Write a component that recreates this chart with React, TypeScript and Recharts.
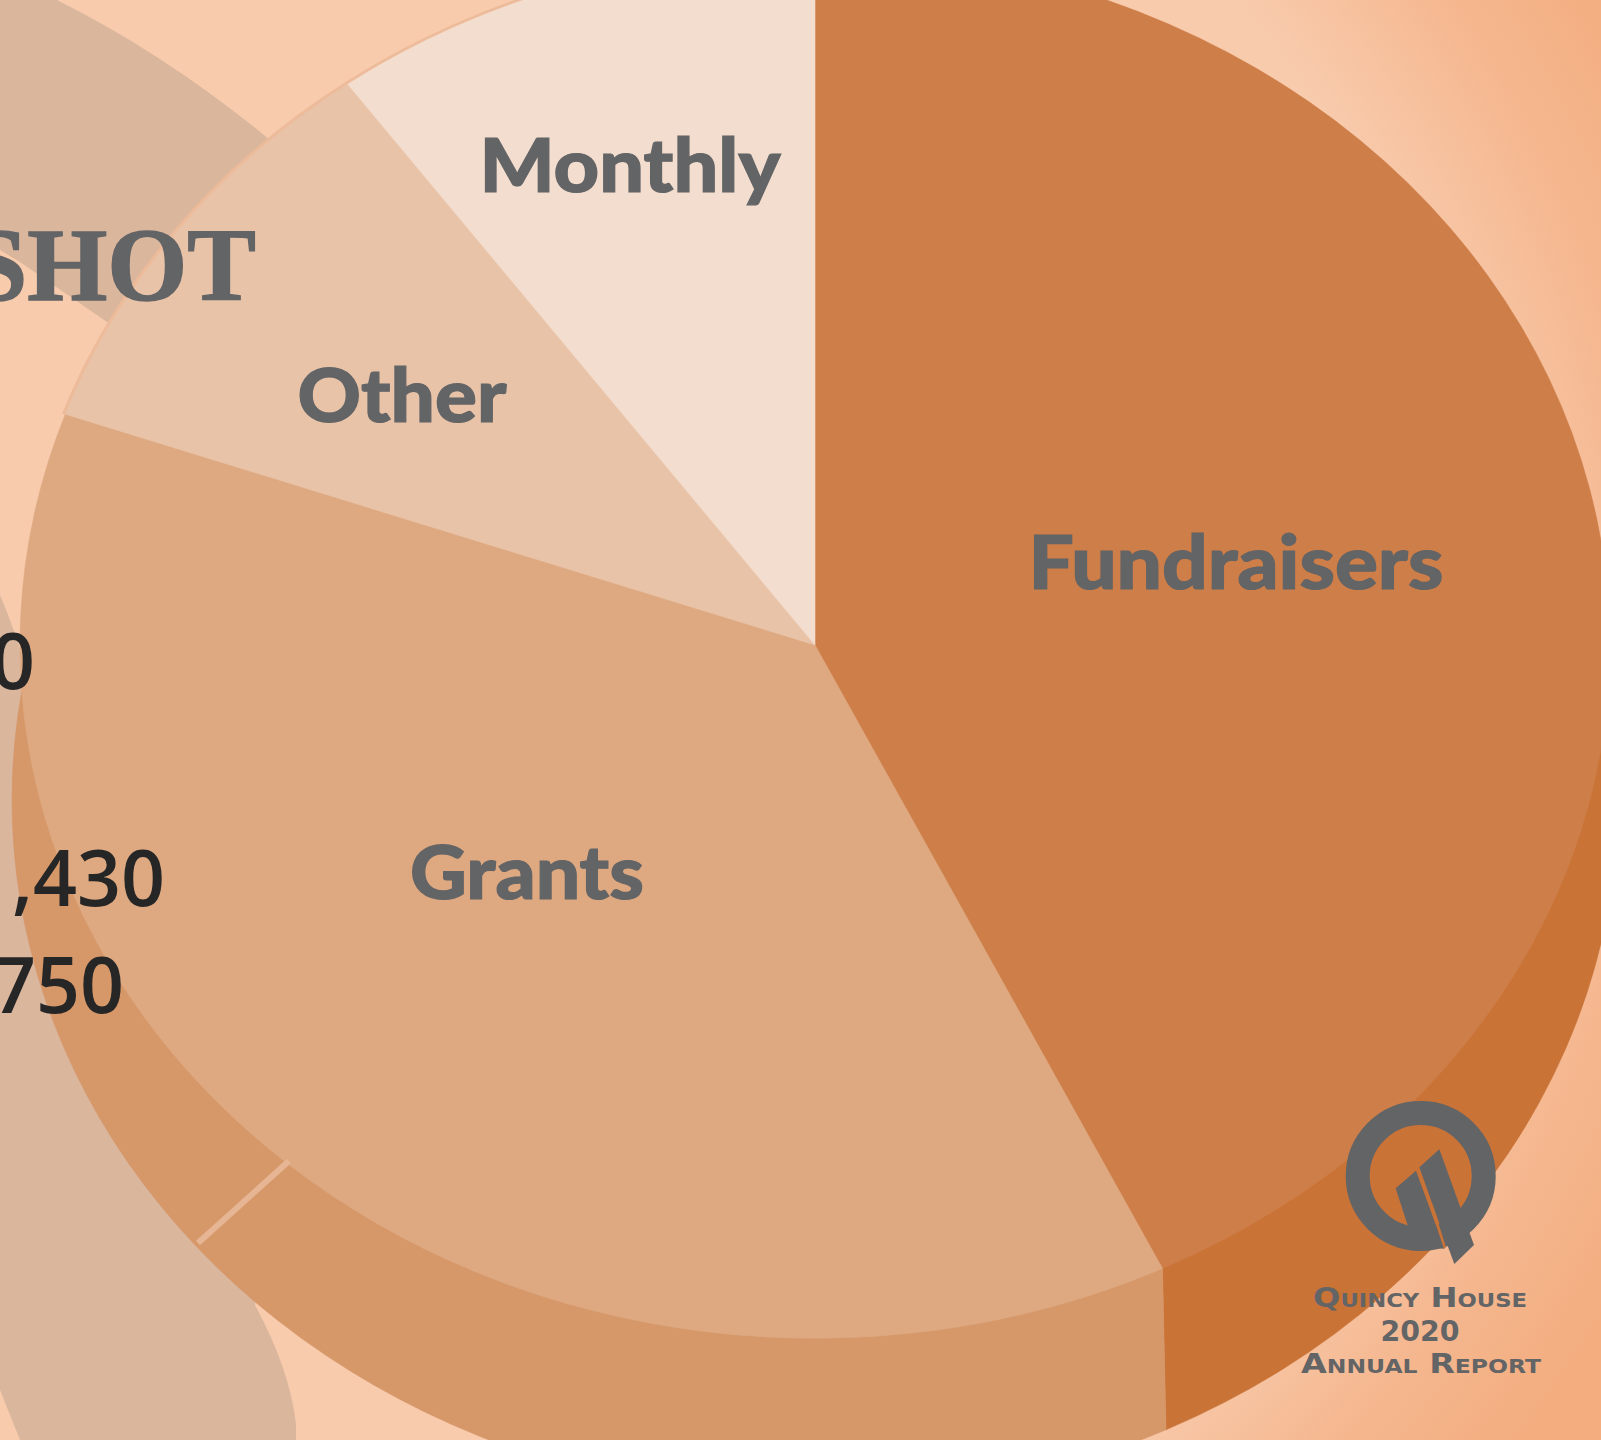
import { Pie, PieChart } from "recharts";

const categories = ["Fundraisers", "Grants", "Other", "Monthly"];
const shares = [42.8, 37.6, 9.6, 10.0];
const faceColors = ["#CE7E48", "#DEA981", "#E8C3A8", "#F3DDCE"];
const rimColors = ["none", "none", "#EDBB99", "#EDBB99"];
const sideColors = ["#C97337", "#D69769", "none", "none"];

const labelX = [1236, 527, 402, 630];
const labelY = [589, 899, 422, 192];
const labelWidth = [415, 234, 209, 301];

const TILT = 0.872;
const FACE_CX = 815;
const FACE_CY = 645;
const FACE_R = 795;
const GREY = "#636466";

const faceData = categories.map((name, i) => ({ name, value: shares[i], fill: faceColors[i] }));
const rimData = categories.map((name, i) => ({ name, value: shares[i], fill: rimColors[i] }));
const sideData = categories.map((name, i) => ({ name, value: shares[i], fill: sideColors[i] }));

// recharts only draws circular sectors, so squash them into the tilted ellipse
function TiltedSector(props: any) {
  const { cx, cy, outerRadius, startAngle, endAngle, fill } = props;
  const rx = outerRadius;
  const ry = outerRadius * TILT;
  const a0 = (-startAngle * Math.PI) / 180;
  const a1 = (-endAngle * Math.PI) / 180;
  const large = Math.abs(endAngle - startAngle) > 180 ? 1 : 0;
  const d =
    `M${cx},${cy} L${cx + rx * Math.cos(a0)},${cy + ry * Math.sin(a0)} ` +
    `A${rx},${ry} 0 ${large} 1 ${cx + rx * Math.cos(a1)},${cy + ry * Math.sin(a1)} Z`;
  return <path d={d} fill={fill} stroke={fill} strokeWidth={0.6} />;
}

// outer wall of the 3D pie: runs from the lower rim up to the top face, so slice edges stay vertical
function SideWall(props: any) {
  const { cx, cy, outerRadius, startAngle, endAngle, fill } = props;
  if (fill === "none") return null;
  const rx = outerRadius;
  const ry = outerRadius * TILT;
  const a0 = (-startAngle * Math.PI) / 180;
  const a1 = (-endAngle * Math.PI) / 180;
  const large = Math.abs(endAngle - startAngle) > 180 ? 1 : 0;
  const topX = (a: number) => FACE_CX + FACE_R * Math.cos(a);
  const topY = (a: number) => FACE_CY + FACE_R * TILT * Math.sin(a);
  const d =
    `M${topX(a0)},${topY(a0)} L${cx + rx * Math.cos(a0)},${cy + ry * Math.sin(a0)} ` +
    `A${rx},${ry} 0 ${large} 1 ${cx + rx * Math.cos(a1)},${cy + ry * Math.sin(a1)} ` +
    `L${topX(a1)},${topY(a1)} L${FACE_CX},${FACE_CY} Z`;
  return <path d={d} fill={fill} stroke={fill} strokeWidth={0.6} />;
}

function sliceLabel(props: any) {
  const i = categories.indexOf(props.name);
  return (
    <text
      key={props.name}
      x={labelX[i]}
      y={labelY[i]}
      textAnchor="middle"
      fill={GREY}
      stroke={GREY}
      strokeWidth={1.2}
      fontFamily="Lato"
      fontWeight={900}
      fontSize={75}
      textLength={labelWidth[i]}
      lengthAdjust="spacingAndGlyphs"
    >
      {props.name}
    </text>
  );
}

const z = (x: number, y: number) => `${1100 + x / 3},${1050 + y / 3}`;

function Logo() {
  return (
    <g fill={GREY}>
      <circle cx={1420.7} cy={1176} r={63} fill="none" stroke={GREY} strokeWidth={24} />
      <polygon points={[z(887, 415), z(948, 362), z(1034, 596), z(960, 590), z(922, 523)].join(" ")} />
      <polygon points={[z(958, 352), z(1018, 298), z(1122, 585), z(1063, 642), z(1000, 470)].join(" ")} />
      <polygon points={[z(950, 362), z(956, 354), z(990, 445), z(982, 450)].join(" ")} fill="#C97337" />
      <polygon points={[z(988, 465), z(996, 458), z(1038, 592), z(1032, 596)].join(" ")} fill="#C97337" />
      <text x={1420} y={1307} textAnchor="middle" fontFamily="DejaVu Sans" fontWeight={700} fontSize={27} style={{ fontVariant: "small-caps" }} textLength={214} lengthAdjust="spacingAndGlyphs">Quincy House</text>
      <text x={1420} y={1341} textAnchor="middle" fontFamily="DejaVu Sans" fontWeight={700} fontSize={28} textLength={79} lengthAdjust="spacingAndGlyphs">2020</text>
      <text x={1421} y={1373} textAnchor="middle" fontFamily="DejaVu Sans" fontWeight={700} fontSize={27} style={{ fontVariant: "small-caps" }} textLength={240} lengthAdjust="spacingAndGlyphs">Annual Report</text>
    </g>
  );
}

const layer = { position: "absolute", left: 0, top: 0 } as const;

export default function App() {
  return (
    <div
      style={{
        ...layer,
        width: 1601,
        height: 1440,
        overflow: "hidden",
        background: "radial-gradient(circle 1300px at 500px 650px, #F8CBAD 0, #F8CBAD 980px, #F5B78F 1150px, #F3AD7F 1290px)",
      }}
    >
      <svg width={1601} height={1440} style={layer}>
        <path d="M0,0 L57,0 Q167,55 270,140 L300,320 L107,322 L20,262 L0,250 Z" fill="#DAB69D" />
        <path d="M0,595 Q15,630 30,680 L300,900 L255,1305 Q290,1370 296,1424 L296,1440 L20,1440 Q10,1415 0,1390 Z" fill="#DAB69D" />
      </svg>

      <div style={layer}>
        <PieChart width={1601} height={1440} margin={{ top: 0, right: 0, bottom: 0, left: 0 }}>
          <Pie data={sideData} dataKey="value" nameKey="name" cx={FACE_CX} cy={800} outerRadius={803} startAngle={90} endAngle={-270} stroke="none" shape={SideWall} isAnimationActive={false} />
          <Pie data={rimData} dataKey="value" nameKey="name" cx={FACE_CX} cy={FACE_CY} outerRadius={798} startAngle={90} endAngle={-270} stroke="none" shape={TiltedSector} isAnimationActive={false} />
          <Pie data={faceData} dataKey="value" nameKey="name" cx={FACE_CX} cy={FACE_CY} outerRadius={FACE_R} startAngle={90} endAngle={-270} stroke="none" shape={TiltedSector} label={sliceLabel} labelLine={false} isAnimationActive={false} />
        </PieChart>
      </div>

      <svg width={1601} height={1440} style={layer}>
        <line x1={289} y1={1161} x2={198} y2={1243} stroke="#E6B594" strokeWidth={6} />
        <text x={-30} y={300} fill={GREY} stroke={GREY} strokeWidth={1.5} fontFamily="Liberation Serif" fontWeight={700} fontSize={103} textLength={286} lengthAdjust="spacingAndGlyphs">SHOT</text>
        <g fill="#262626" fontFamily="Open Sans" fontSize={77} fontWeight={600} textAnchor="end">
          <text x={35} y={689}>0</text>
          <text x={165} y={906}>,430</text>
          <text x={124} y={1013}>750</text>
        </g>
        <Logo />
      </svg>
    </div>
  );
}
